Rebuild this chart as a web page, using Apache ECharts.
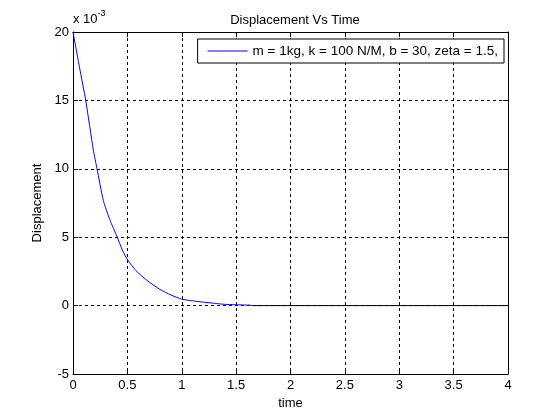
<!DOCTYPE html>
<html>
<head>
<meta charset="utf-8">
<script src="https://cdn.jsdelivr.net/npm/echarts@6/dist/echarts.min.js"></script>
<style>html,body{margin:0;padding:0;background:#fff}#c{width:560px;height:420px}</style>
</head>
<body>
<div id="c"></div>
<script>
// values (y in units of 1e-3)
const timeVals = [0, 0.06, 0.117, 0.187, 0.221, 0.279, 0.34, 0.407, 0.454, 0.503, 0.58, 0.677, 0.8, 0.9, 1.0, 1.1, 1.2, 1.3, 1.38, 1.5, 1.64];
const dispVals = [20, 17.4, 15, 11.37, 10, 7.68, 6.25, 5.0, 4.06, 3.33, 2.55, 1.86, 1.18, 0.78, 0.47, 0.35, 0.25, 0.17, 0.1, 0.06, 0.03];
const zeroLineT = [1.64, 4];
const zeroLineY = [0, 0];
const legendName = "m = 1kg, k = 100 N/M, b = 30, zeta = 1.5,";

const font = "Liberation Sans, Arial, sans-serif";
const dash = { type: [3, 3], color: "#000", width: 1 };

const chart = echarts.init(document.getElementById("c"));
chart.setOption({
  animation: false,
  backgroundColor: "#fff",
  textStyle: { fontFamily: font },
  title: {
    text: "Displacement Vs Time",
    left: 290, top: 9, textAlign: "center",
    textStyle: { fontSize: 13, fontWeight: "normal", color: "#000", fontFamily: font },
  },
  legend: {
    data: [{ name: legendName, icon: "rect" }],
    right: 56, top: 39,
    padding: [5, 6, 5, 10],
    itemWidth: 40, itemHeight: 1, itemGap: 5,
    borderColor: "#000", borderWidth: 1, borderRadius: 0,
    backgroundColor: "#fff",
    textStyle: { fontSize: 13.5, color: "#000", fontFamily: font },
  },
  graphic: [{
    type: "text", left: 73, top: 9,
    style: {
      text: "{a|x 10}{b|-3}",
      rich: {
        a: { fontSize: 13, fontFamily: font, fill: "#000", verticalAlign: "bottom" },
        b: { fontSize: 9, fontFamily: font, fill: "#000", verticalAlign: "top", padding: [0, 0, 8, 0] },
      },
    },
  }],
  grid: { left: 73, right: 52, top: 32, bottom: 46 },
  xAxis: [{
    type: "value", min: 0, max: 4, interval: 0.5,
    name: "time", nameLocation: "middle", nameGap: 21,
    nameTextStyle: { fontSize: 13, color: "#000" },
    axisLine: { onZero: false, lineStyle: { color: "#000" } },
    axisTick: { inside: true, length: 5, lineStyle: { color: "#000" } },
    axisLabel: { fontSize: 13, color: "#000", margin: 5 },
    splitLine: { show: true, lineStyle: dash },
  }, {
    type: "value", min: 0, max: 4, interval: 0.5, position: "top",
    axisLine: { onZero: false, lineStyle: { color: "#000" } },
    axisTick: { inside: true, length: 5, lineStyle: { color: "#000" } },
    axisLabel: { show: false }, splitLine: { show: false },
  }],
  yAxis: [{
    type: "value", min: -5, max: 20, interval: 5,
    name: "Displacement", nameLocation: "middle", nameGap: 25,
    nameTextStyle: { fontSize: 13, color: "#000" },
    axisLine: { onZero: false, lineStyle: { color: "#000" } },
    axisTick: { inside: true, length: 5, lineStyle: { color: "#000" } },
    axisLabel: { fontSize: 13, color: "#000", margin: 4 },
    splitLine: { show: true, lineStyle: dash },
  }, {
    type: "value", min: -5, max: 20, interval: 5, position: "right",
    axisLine: { onZero: false, lineStyle: { color: "#000" } },
    axisTick: { inside: true, length: 5, lineStyle: { color: "#000" } },
    axisLabel: { show: false }, splitLine: { show: false },
  }],
  series: [{
    name: legendName, type: "line", symbol: "none", smooth: 0.2,
    data: timeVals.map((t, i) => [t, dispVals[i]]),
    lineStyle: { color: "#0000ff", width: 1 }, itemStyle: { color: "#0000ff" },
  }, {
    name: "zero", type: "line", symbol: "none",
    data: zeroLineT.map((t, i) => [t, zeroLineY[i]]),
    lineStyle: { color: "#000", width: 1 }, itemStyle: { color: "#000" },
  }],
});
</script>
</body>
</html>
